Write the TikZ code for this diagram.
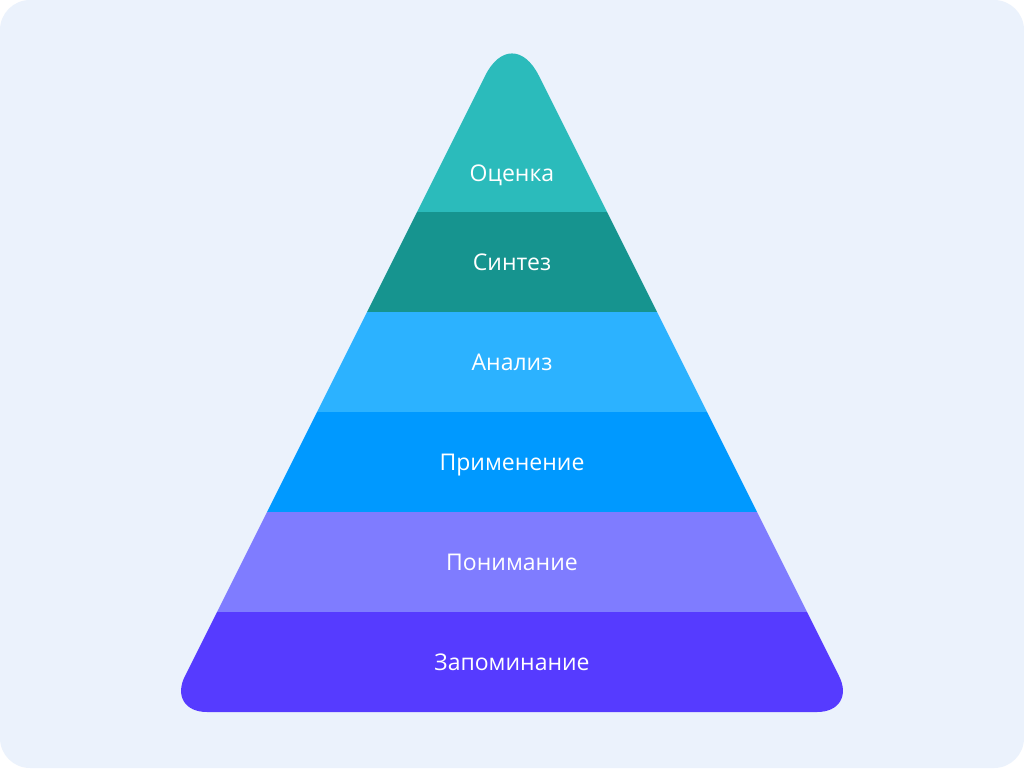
\documentclass[tikz,border=0pt]{standalone}
\usepackage{fontspec}
\setmainfont{Open Sans}
\definecolor{bgc}{HTML}{EBF2FC}
\definecolor{c1}{HTML}{2BBBBB}
\definecolor{c2}{HTML}{16948F}
\definecolor{c3}{HTML}{2CB2FF}
\definecolor{c4}{HTML}{0099FF}
\definecolor{c5}{HTML}{7F7CFF}
\definecolor{c6}{HTML}{563BFF}
\tikzset{lbl/.style={text=white,font=\fontsize{23}{27}\selectfont,anchor=base}}
\begin{document}
\begin{tikzpicture}[x=1pt,y=-1pt]
\useasboundingbox (0,0) rectangle (1024,768);
\fill[white] (0,0) rectangle (1024,768);
\fill[bgc,rounded corners=30pt] (0,0) rectangle (1024,768);
\begin{scope}
\clip (512,712) [rounded corners=40pt] -- (167,712) [rounded corners=60pt] -- (512,22) [rounded corners=40pt] -- (857,712) -- cycle;
\fill[c1] (100,0) rectangle (924,212);
\fill[c2] (100,212) rectangle (924,312);
\fill[c3] (100,312) rectangle (924,412);
\fill[c4] (100,412) rectangle (924,512);
\fill[c5] (100,512) rectangle (924,612);
\fill[c6] (100,612) rectangle (924,760);
\end{scope}
\node[lbl] (l1) at (512,181) {Оценка};
\node[lbl] (l2) at (512,270) {Синтез};
\node[lbl] (l3) at (512,370) {Анализ};
\node[lbl] (l4) at (512,470) {Применение};
\node[lbl] (l5) at (512,570) {Понимание};
\node[lbl] (l6) at (512,670) {Запоминание};
\end{tikzpicture}
\end{document}
